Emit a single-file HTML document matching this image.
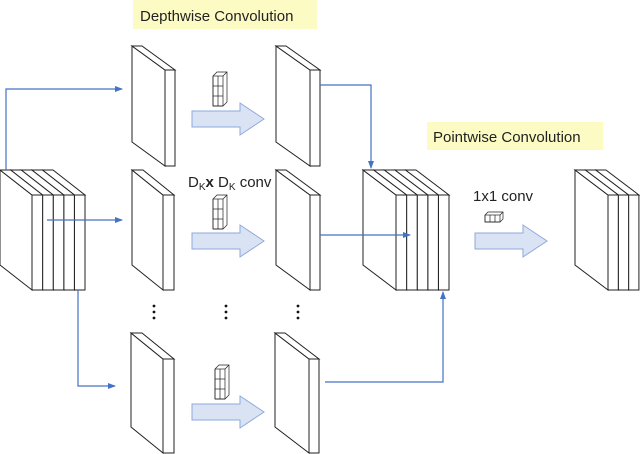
<!DOCTYPE html>
<html><head><meta charset="utf-8"><style>
body{margin:0;background:#fff;width:640px;height:454px;overflow:hidden}
svg{display:block}
text{font-family:"Liberation Sans",sans-serif;fill:#222}
</style></head><body>
<svg id="s" width="640" height="454" viewBox="0 0 640 454" xmlns="http://www.w3.org/2000/svg">
<defs>
<marker id="ah" markerWidth="8" markerHeight="8" refX="7" refY="4" orient="auto" markerUnits="userSpaceOnUse">
<path d="M0,1 L8,4 L0,7 z" fill="#4472c4"/></marker>
</defs>
<rect x="133" y="0" width="184" height="29" fill="#fdfbc4"/>
<text x="140" y="21" font-size="15">Depthwise Convolution</text>
<rect x="427" y="122" width="176" height="28" fill="#fdfbc4"/>
<text x="433" y="142" font-size="15">Pointwise Convolution</text>
<text x="188" y="187" font-size="15">D<tspan font-size="10" dy="3">K</tspan><tspan dy="-3" font-weight="bold">x</tspan><tspan> D</tspan><tspan font-size="10" dy="3">K</tspan><tspan dy="-3"> conv</tspan></text>
<text x="473" y="201" font-size="15">1x1 conv</text>
<g id="slabs" stroke="#222" stroke-width="1" fill="#fff"></g>
<g fill="#dae3f3" stroke="#8faadc" stroke-width="1">
<path d="M192,111 H240 V103 L264,119 L240,135 V127 H192 Z"/>
<path d="M192,233 H240 V225 L264,241 L240,257 V249 H192 Z"/>
<path d="M192,404 H240 V396 L264,412 L240,428 V420 H192 Z"/>
<path d="M475,233 H523 V225 L547,241 L523,257 V249 H475 Z"/>
</g>
<g id="kern" stroke="#222" stroke-width="0.7" fill="#fff"></g>
<g stroke="#4472c4" stroke-width="1.2" fill="none">
<path d="M6,170 V89 H122" marker-end="url(#ah)"/>
<path d="M47,220 H122" marker-end="url(#ah)"/>
<path d="M78,290 V386 H115" marker-end="url(#ah)"/>
<path d="M320,85 H371 V168" marker-end="url(#ah)"/>
<path d="M320,235 H410" marker-end="url(#ah)"/>
<path d="M325,382 H443 V292" marker-end="url(#ah)"/>
</g>
<g fill="#111">
<circle cx="154" cy="306" r="1.4"/><circle cx="154" cy="312" r="1.4"/><circle cx="154" cy="318" r="1.4"/>
<circle cx="226" cy="306" r="1.4"/><circle cx="226" cy="312" r="1.4"/><circle cx="226" cy="318" r="1.4"/>
<circle cx="298" cy="306" r="1.4"/><circle cx="298" cy="312" r="1.4"/><circle cx="298" cy="318" r="1.4"/>
</g>
</svg>
<script>
var g=document.getElementById('slabs'),NS='http://www.w3.org/2000/svg';
function P(pts){var p=document.createElementNS(NS,'polygon');p.setAttribute('points',pts.map(function(a){return a.join(',')}).join(' '));g.appendChild(p);}
function stack(X,y,dx,dy,H,t,n){for(var i=n-1;i>=0;i--){var x=X+i*t;
P([[x,y],[x+dx,y+dy],[x+dx,y+dy+H],[x,y+H]]);
P([[x+dx,y+dy],[x+dx+t,y+dy],[x+dx+t,y+dy+H],[x+dx,y+dy+H]]);
P([[x,y],[x+t,y],[x+dx+t,y+dy],[x+dx,y+dy]]);}}
stack(132,46,33,24,96,10,1);stack(132,170,31,25,95,11,1);stack(131,333,32,26,94,11,1);
stack(276,46,34,24,96,10,1);stack(276,170,34,25,95,10,1);stack(275,333,34,26,94,10,1);
stack(0,170,32,25,95,10.6,5);stack(363,170,33,25,95,10.6,5);stack(575,170,33,25,95,10.3,3);
var k=document.getElementById('kern');
function kern(x,y,cw,ch,c,r,d){
var p=document.createElementNS(NS,'polygon');p.setAttribute('points',[x,y,x+d,y-d,x+c*cw+d,y-d,x+c*cw+d,y+r*ch-d,x+c*cw,y+r*ch,x,y+r*ch].join(','));k.appendChild(p);
for(var i=0;i<=c;i++){var l=document.createElementNS(NS,'line');l.setAttribute('x1',x+i*cw);l.setAttribute('y1',y);l.setAttribute('x2',x+i*cw);l.setAttribute('y2',y+r*ch);k.appendChild(l);}
for(var j=0;j<=r;j++){var l=document.createElementNS(NS,'line');l.setAttribute('x1',x);l.setAttribute('y1',y+j*ch);l.setAttribute('x2',x+c*cw);l.setAttribute('y2',y+j*ch);k.appendChild(l);}
var l=document.createElementNS(NS,'line');l.setAttribute('x1',x+c*cw);l.setAttribute('y1',y);l.setAttribute('x2',x+c*cw+d);l.setAttribute('y2',y-d);k.appendChild(l);}
kern(213,76,5,10,2,3,4);kern(213,199,5,10,2,3,4);kern(215,369,5,10,2,3,4);kern(485,215,5,7,3,1,3);
</script>
</body></html>
